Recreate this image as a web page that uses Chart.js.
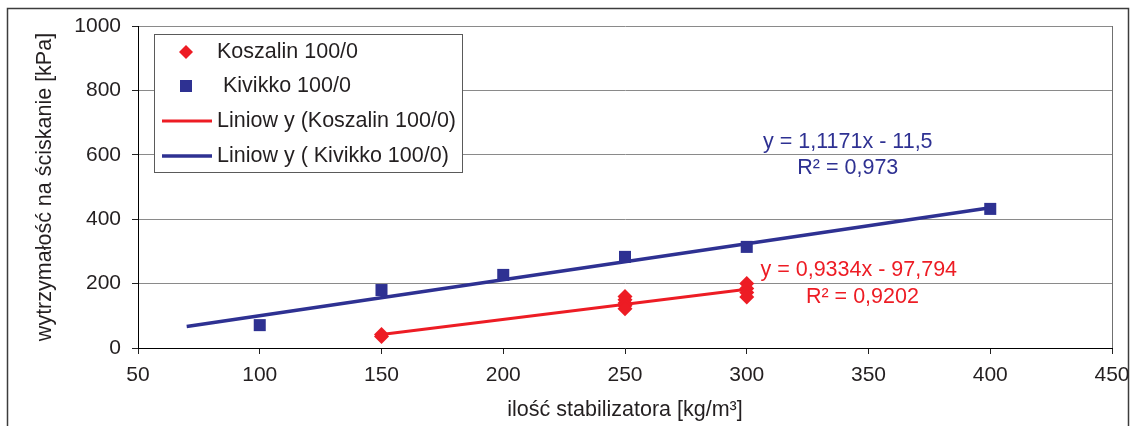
<!DOCTYPE html>
<html>
<head>
<meta charset="utf-8">
<script src="https://cdn.jsdelivr.net/npm/chart.js@4.4.1/dist/chart.umd.min.js"></script>
<style>
  html, body { margin: 0; padding: 0; background: #fff; }
  #wrap { width: 1134px; height: 426px; }
</style>
</head>
<body>
<div id="wrap"><canvas id="c" width="1134" height="426"></canvas></div>
<script>
// Measured compressive strength vs. stabilizer dose
const koszalinX = [150, 150, 250, 250, 250, 250, 250, 300, 300, 300, 300];
const koszalinY = [36, 42, 160, 150, 140, 131, 122, 200, 185, 172, 158];
const kivikkoX = [100, 150, 200, 250, 300, 400];
const kivikkoY = [71, 180, 227, 283, 314, 432];

// Linear trend fits: [slope, intercept], R², drawn x-range
const koszalinFit = [0.9334, -97.794];
const koszalinR2 = 0.9202;
const koszalinRange = [150, 300];
const kivikkoFit = [1.1171, -11.5];
const kivikkoR2 = 0.973;
const kivikkoRange = [70, 400];

const seriesLabels = ['Koszalin 100/0', 'Kivikko 100/0', 'Liniow y (Koszalin 100/0)', 'Liniow y ( Kivikko 100/0)'];
const xAxisTitle = 'ilość stabilizatora [kg/m³]';
const yAxisTitle = 'wytrzymałość na ściskanie [kPa]';

const RED = '#ed1c24';
const BLUE = '#2e3192';
const FONT = "'Liberation Sans', Arial, Helvetica, sans-serif";
const TEXT = '#231f20';
const TXT_SIZE = 21.5;
const TICK_SIZE = 21;

const pts = (xs, ys) => xs.map((x, i) => ({ x, y: ys[i] }));
const fitLine = (fit, range) => range.map(x => ({ x, y: fit[0] * x + fit[1] }));
const dec = v => String(v).replace('.', ',');
const eqText = fit => `y = ${dec(fit[0])}x ${fit[1] < 0 ? '-' : '+'} ${dec(Math.abs(fit[1]))}`;

// Equation labels, anchored in data units
const eqLabels = [
  { text: eqText(kivikkoFit), x: 341.5, y: 641, color: BLUE },
  { text: 'R² = ' + dec(kivikkoR2), x: 341.5, y: 558, color: BLUE },
  { text: eqText(koszalinFit), x: 346, y: 242, color: RED },
  { text: 'R² = ' + dec(koszalinR2), x: 347.5, y: 158, color: RED }
];

const framePlugin = {
  id: 'frame',
  beforeDraw(chart) {
    const ctx = chart.ctx;
    ctx.save();
    ctx.strokeStyle = '#3c3c3c';
    ctx.lineWidth = 1.5;
    ctx.beginPath();
    ctx.moveTo(7.5, 426);
    ctx.lineTo(7.5, 8.5);
    ctx.lineTo(1128.5, 8.5);
    ctx.lineTo(1128.5, 426);
    ctx.stroke();
    ctx.restore();
  },
  beforeDatasetsDraw(chart) {
    const { ctx, chartArea: a } = chart;
    ctx.save();
    ctx.strokeStyle = '#707070';
    ctx.lineWidth = 1;
    ctx.beginPath();
    ctx.moveTo(Math.round(a.right) + 0.5, a.top);
    ctx.lineTo(Math.round(a.right) + 0.5, a.bottom);
    ctx.stroke();
    ctx.restore();
  }
};

const labelPlugin = {
  id: 'eqLabels',
  afterDatasetsDraw(chart) {
    const ctx = chart.ctx;
    const xs = chart.scales.x, ys = chart.scales.y;
    ctx.save();
    ctx.font = `${TXT_SIZE}px ${FONT}`;
    ctx.textAlign = 'center';
    ctx.textBaseline = 'middle';
    eqLabels.forEach(l => {
      ctx.fillStyle = l.color;
      ctx.fillText(l.text, xs.getPixelForValue(l.x), ys.getPixelForValue(l.y));
    });
    ctx.restore();
  }
};

const legendPlugin = {
  id: 'boxLegend',
  afterDraw(chart) {
    const ctx = chart.ctx;
    const bx = 154.5, by = 34.5, bw = 308, bh = 138;
    ctx.save();
    ctx.fillStyle = '#fff';
    ctx.fillRect(bx, by, bw, bh);
    ctx.strokeStyle = '#5a5a5a';
    ctx.lineWidth = 1;
    ctx.strokeRect(bx, by, bw, bh);
    const rowY = [52, 86, 121, 156];
    const textX = [217, 223, 217, 217];
    const mx = 186;
    chart.data.datasets.forEach((ds, i) => {
      const y = rowY[i];
      if (ds.showLine) {
        ctx.strokeStyle = ds.borderColor;
        ctx.lineWidth = ds.borderWidth;
        ctx.beginPath();
        ctx.moveTo(162, y);
        ctx.lineTo(212, y);
        ctx.stroke();
      } else {
        ctx.fillStyle = ds.backgroundColor;
        ctx.beginPath();
        if (ds.pointStyle === 'rectRot') {
          const r = 7;
          ctx.moveTo(mx, y - r);
          ctx.lineTo(mx + r, y);
          ctx.lineTo(mx, y + r);
          ctx.lineTo(mx - r, y);
          ctx.closePath();
        } else {
          ctx.rect(mx - 6, y - 6, 12, 12);
        }
        ctx.fill();
      }
      ctx.fillStyle = TEXT;
      ctx.font = `${TXT_SIZE}px ${FONT}`;
      ctx.textAlign = 'left';
      ctx.textBaseline = 'middle';
      ctx.fillText(ds.label, textX[i], y);
    });
    ctx.restore();
  }
};

new Chart(document.getElementById('c'), {
  type: 'scatter',
  data: {
    datasets: [
      {
        label: seriesLabels[0],
        data: pts(koszalinX, koszalinY),
        pointStyle: 'rectRot',
        pointRadius: 7.5,
        pointHoverRadius: 7.5,
        backgroundColor: RED,
        borderColor: RED,
        borderWidth: 0,
        showLine: false,
        order: 0
      },
      {
        label: seriesLabels[1],
        data: pts(kivikkoX, kivikkoY),
        pointStyle: 'rect',
        pointRadius: 8.5,
        pointHoverRadius: 8.5,
        backgroundColor: BLUE,
        borderColor: BLUE,
        borderWidth: 0,
        showLine: false,
        order: 0
      },
      {
        label: seriesLabels[2],
        data: fitLine(koszalinFit, koszalinRange),
        showLine: true,
        borderColor: RED,
        backgroundColor: RED,
        borderWidth: 3,
        pointRadius: 0,
        pointHoverRadius: 0,
        order: 1
      },
      {
        label: seriesLabels[3],
        data: fitLine(kivikkoFit, kivikkoRange),
        showLine: true,
        borderColor: BLUE,
        backgroundColor: BLUE,
        borderWidth: 3.5,
        pointRadius: 0,
        pointHoverRadius: 0,
        order: 1
      }
    ]
  },
  options: {
    responsive: false,
    animation: false,
    events: [],
    layout: { padding: { left: 28, right: 22, top: 26, bottom: 0 } },
    plugins: {
      legend: { display: false },
      tooltip: { enabled: false }
    },
    scales: {
      x: {
        type: 'linear',
        min: 50,
        max: 450,
        ticks: { stepSize: 50, color: TEXT, padding: 9, font: { family: FONT, size: TICK_SIZE }, maxRotation: 0, callback: v => String(v) },
        grid: { drawOnChartArea: false, drawTicks: true, tickLength: 6, tickColor: '#222', lineWidth: 1 },
        border: { display: true, color: '#000', width: 1 },
        title: { display: true, text: xAxisTitle, color: TEXT, font: { family: FONT, size: TXT_SIZE }, padding: { top: 4, bottom: 3 } },
        afterFit(scale) {
          scale.height = 78;
          scale.paddingLeft = 0;
          scale.paddingRight = 0;
        }
      },
      y: {
        type: 'linear',
        min: 0,
        max: 1000,
        ticks: { stepSize: 200, color: TEXT, padding: 11, font: { family: FONT, size: TICK_SIZE }, callback: v => String(v) },
        grid: { color: '#8a8a8a', lineWidth: 1, drawTicks: true, tickLength: 6, tickColor: '#222' },
        border: { display: true, color: '#000', width: 1 },
        title: { display: true, text: yAxisTitle, color: TEXT, font: { family: FONT, size: TXT_SIZE }, padding: { top: 4, bottom: 4 } },
        afterFit(scale) { scale.width = 110; }
      }
    }
  },
  plugins: [framePlugin, labelPlugin, legendPlugin]
});
</script>
</body>
</html>
